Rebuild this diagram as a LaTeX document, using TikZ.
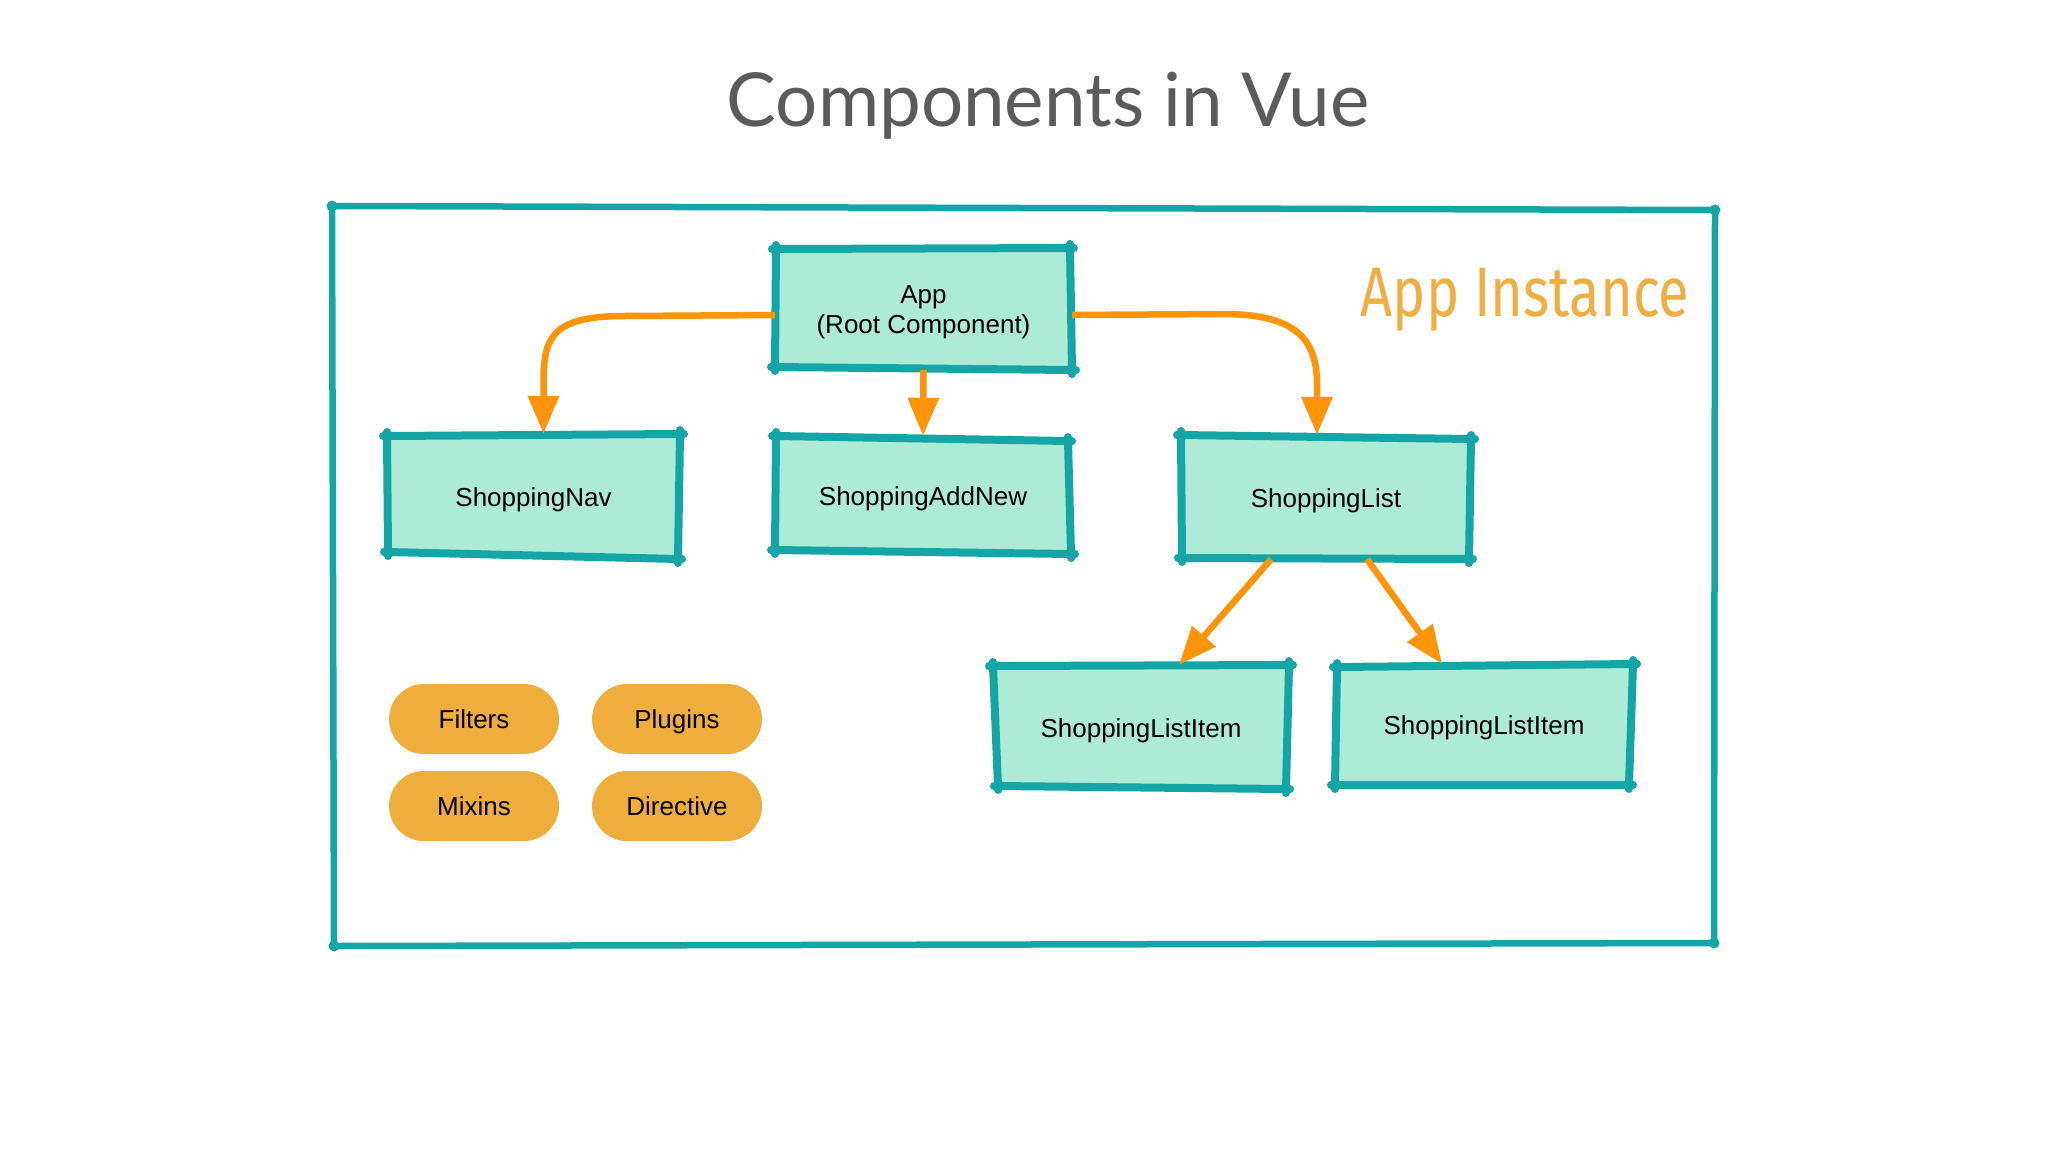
\documentclass[tikz,border=0pt]{standalone}
\usepackage{fontspec}
\setmainfont{Liberation Sans}
\newfontfamily\titlefont{Lato}
\IfFontExistsTF{FiraSans-Light.otf}{\newfontfamily\handfont{FiraSans-Light.otf}}{\newfontfamily\handfont{Fira Sans}}
\usetikzlibrary{arrows.meta,calc,fit}
\definecolor{vteal}{HTML}{14A6A6}
\definecolor{boxfill}{HTML}{AEEBD6}
\definecolor{arrorange}{HTML}{FF9408}
\definecolor{pillcol}{HTML}{EFAE3C}
\definecolor{handcol}{HTML}{F0AE40}
\definecolor{titlegray}{HTML}{5B5B5B}
\tikzset{
  edge/.style={draw=vteal,line width=8pt,line cap=round},
  frameedge/.style={draw=vteal,line width=6.5pt,line cap=round},
  arr/.style={draw=arrorange,line width=6.5pt,-{Triangle[length=38pt,width=30pt]}},
  pill/.style={fill=pillcol,rounded corners=35pt,minimum width=170pt,minimum height=70pt,inner sep=0pt,text height=19pt,text depth=1pt,font=\fontsize{26}{30}\selectfont},
  boxtext/.style={inner sep=0pt,align=center,font=\fontsize{26}{30}\selectfont},
  boxfit/.style={inner sep=0pt}
}
\newcommand\handbox[6]{%
  \coordinate (#1tl) at (#2);
  \coordinate (#1tr) at (#3);
  \coordinate (#1br) at (#4);
  \coordinate (#1bl) at (#5);
  \fill[boxfill] (#1tl) -- (#1tr) -- (#1br) -- (#1bl) -- cycle;
  \draw[edge] ($(#1tl)!-4pt!(#1tr)$) -- ($(#1tr)!-4pt!(#1tl)$);
  \draw[edge] ($(#1tr)!-4pt!(#1br)$) -- ($(#1br)!-4pt!(#1tr)$);
  \draw[edge] ($(#1br)!-4pt!(#1bl)$) -- ($(#1bl)!-4pt!(#1br)$);
  \draw[edge] ($(#1bl)!-4pt!(#1tl)$) -- ($(#1tl)!-4pt!(#1bl)$);
  \foreach \c in {tl,tr,br,bl} {\fill[vteal] (#1\c) circle (6pt);}
  \node[boxfit,fit=(#1tl)(#1tr)(#1br)(#1bl)] (#1) {};
  \node[boxtext] (#1txt) at ([yshift=-3.5pt]#1.center) {#6};
}
\begin{document}
\begin{tikzpicture}[x=1pt,y=-1pt]
\fill[white] (0,0) rectangle (2048,1152);
\useasboundingbox (0,0) rectangle (2048,1152);

% title
\node[anchor=base,text=titlegray,font=\titlefont\fontsize{74.5}{80}\selectfont] (title) at (1048,126) {Components in Vue};

% outer frame
\coordinate (ftl) at (332,206);
\coordinate (ftr) at (1715,210);
\coordinate (fbr) at (1714,943);
\coordinate (fbl) at (334,946);
\draw[frameedge] (ftl) -- (ftr);
\draw[frameedge] (ftr) -- (fbr);
\draw[frameedge] (fbr) -- (fbl);
\draw[frameedge] (fbl) -- (ftl);
\foreach \c in {ftl,ftr,fbr,fbl} {\fill[vteal] (\c) circle (5.5pt);}

\node[text=handcol,font=\handfont\fontsize{70}{70}\selectfont,xscale=0.8] (inst) at (1525,300) {App Instance};

% boxes
\handbox{app}{776,249}{1070,248}{1072,370}{775,367}{App\\(Root Component)}
\handbox{nav}{387,436}{680,434}{678,559}{388,552}{ShoppingNav}
\handbox{addnew}{776,436}{1068,441}{1071,554}{775,550}{ShoppingAddNew}
\handbox{list}{1181,435}{1471,439}{1469,559}{1182,558}{ShoppingList}
\handbox{itema}{993,666}{1289,665}{1286,789}{998,786}{ShoppingListItem}
\handbox{itemb}{1337,667}{1633,664}{1629,785}{1335,785}{ShoppingListItem}

% connectors
\draw[arr] ([yshift=-6pt]app.west) -- ++(-150,1) .. controls +(-75,0) and +(0,-45) .. ([xshift=10pt,yshift=50pt]nav.north) -- ([xshift=10pt]nav.north);
\draw[arr] ([yshift=-6pt]app.east) -- ++(150,-1) .. controls +(75,0) and +(0,-45) .. ([xshift=-9pt,yshift=50pt]list.north) -- ([xshift=-9pt]list.north);
\draw[arr] (app.south) -- (addnew.north);
\draw[arr] ([xshift=-55pt]list.south) -- ([xshift=38pt]itema.north);
\draw[arr] ([xshift=41pt]list.south) -- ([xshift=-42pt]itemb.north);

% pills
\node[pill] (filters) at (474,719) {Filters};
\node[pill] (plugins) at (677,719) {Plugins};
\node[pill] (mixins) at (474,806) {Mixins};
\node[pill] (directive) at (677,806) {Directive};
\end{tikzpicture}
\end{document}
